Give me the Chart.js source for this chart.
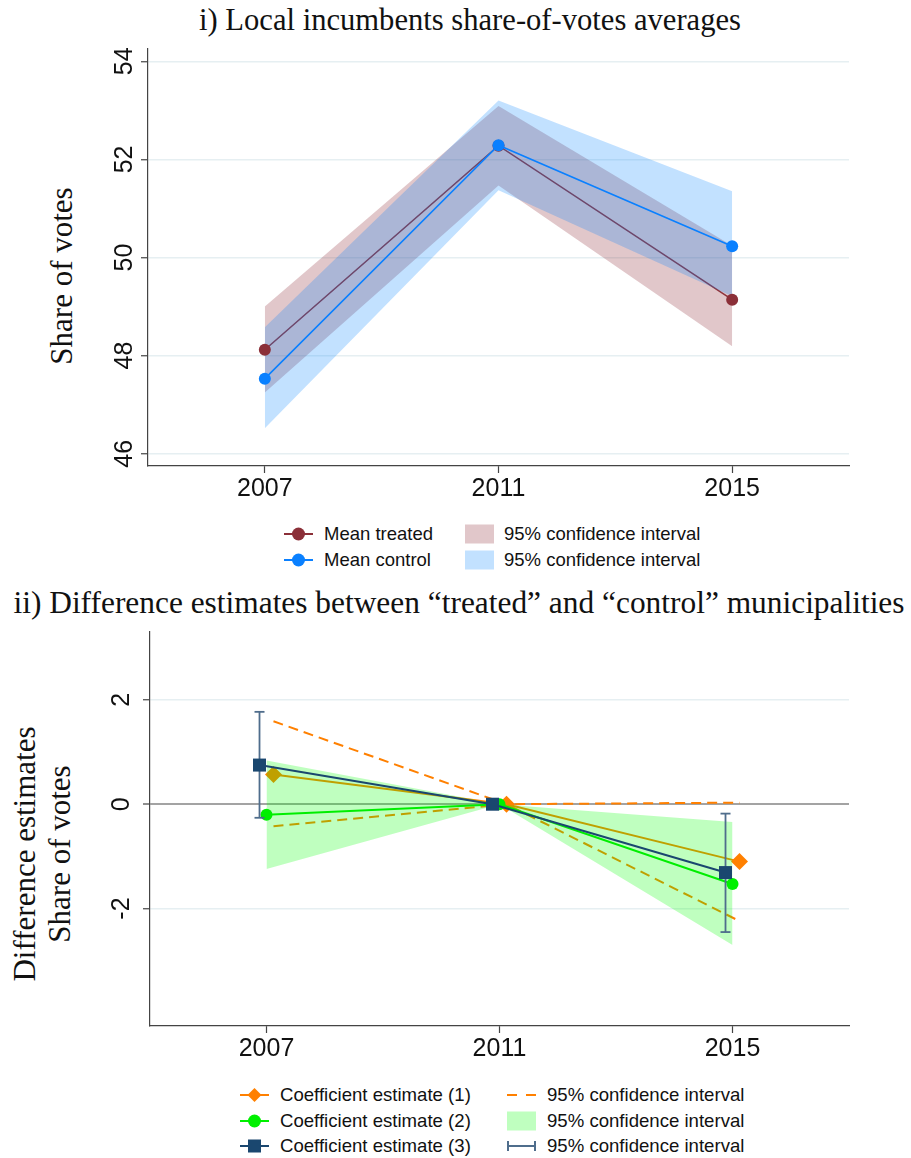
<!DOCTYPE html>
<html>
<head>
<meta charset="utf-8">
<script src="https://cdn.jsdelivr.net/npm/chart.js@4.4.1/dist/chart.umd.min.js"></script>
<style>
  html, body { margin: 0; padding: 0; background: #fff; }
  body { width: 911px; height: 1158px; position: relative; overflow: hidden; }
  canvas { position: absolute; left: 0; }
  .serif { position: absolute; font-family: "Liberation Serif", "Times New Roman", serif; color: #111; white-space: nowrap; font-size: 31px; line-height: 31px; }
  .title { transform: translateX(-50%); }
  .ytitle { transform: translate(-50%, -50%) rotate(-90deg); text-align: center; }
  .leg { position: absolute; font-family: "Liberation Sans", Arial, sans-serif; color: #111; white-space: nowrap; height: 24px; line-height: 24px; }
  .sym { position: absolute; }
</style>
</head>
<body>
<div class="serif title" style="left:470px; top:5px; font-size:30.6px;">i) Local incumbents share-of-votes averages</div>
<div class="serif ytitle" style="left:61px; top:276px;">Share of votes</div>
<canvas id="top" width="911" height="506" style="top:0px;"></canvas>
<div id="legendTop"></div>

<div class="serif title" style="left:459px; top:587px; font-size:31.4px;">ii) Difference estimates between “treated” and “control” municipalities</div>
<div class="serif ytitle" style="left:42px; top:854px; line-height:35px;">Difference estimates<br>Share of votes</div>
<canvas id="bottom" width="911" height="466" style="top:600px;"></canvas>
<div id="legendBottom"></div>

<script>
// ---- election years (x categories) ----
const years = [2007, 2011, 2015];

// ---- panel i: incumbents' share of votes, group means and 95% CIs ----
const meanTreated = [48.12, 52.28, 49.14];
const ciTreatedLo = [47.25, 51.47, 48.19];
const ciTreatedHi = [49.00, 53.09, 50.24];
const meanControl = [47.53, 52.29, 50.23];
const ciControlLo = [46.52, 51.37, 49.21];
const ciControlHi = [48.58, 53.20, 51.35];
const yTicksTop = [46, 48, 50, 52, 54];

// ---- panel ii: difference estimates (2011 = reference year) ----
const coef1 = [0.57, 0, -1.10];
const ci1Lo = [-0.42, 0, -2.24];
const ci1Hi = [1.59, 0, 0.03];
const coef2 = [-0.20, 0, -1.53];
const ci2Lo = [-1.24, 0, -2.70];
const ci2Hi = [0.84, 0, -0.34];
const coef3 = [0.75, 0, -1.31];
const ci3Lo = [-0.26, 0, -2.45];
const ci3Hi = [1.77, 0, -0.18];
const yTicksBottom = [-2, 0, 2];

// horizontal dodge of the three estimates around each year
const DODGE = { c1: 0.12, c2: 0, c3: -0.12 };

const COL = {
  cranberry: '#8b2f38', cranLine: '#90353d',
  blue: '#0a80ff',
  redFill: 'rgba(140,40,50,0.26)', blueFill: 'rgba(0,128,255,0.24)',
  orange: '#ff8000', green: '#00ee00', greenFill: 'rgba(0,255,0,0.25)',
  navy: '#1a476f', bar: '#4f6d8c', axis: '#444', grid: '#e6eff2', zero: '#a3a3a3'
};
const TICK_FONT = '"Liberation Sans", Arial, sans-serif';

function pts(vals, dx) { return years.map((yr, i) => ({ x: yr + dx, y: vals[i] })); }
function bars(lo, hi, dx) {
  const out = [];
  years.forEach((yr, i) => {
    out.push({ x: yr + dx, y: lo[i] }, { x: yr + dx, y: hi[i] }, { x: yr + dx + 0.5, y: null });
  });
  return out;
}

// y tick labels are written vertically, reading upwards
const rotatedYTicks = {
  id: 'rotatedYTicks',
  afterDraw(chart, args, opts) {
    const s = chart.scales.y, ctx = chart.ctx;
    ctx.save();
    ctx.font = opts.font;
    ctx.fillStyle = '#111';
    ctx.textAlign = 'center';
    ctx.textBaseline = 'alphabetic';
    opts.values.forEach(v => {
      ctx.save();
      ctx.translate(s.right - opts.gap, s.getPixelForValue(v));
      ctx.rotate(-Math.PI / 2);
      ctx.fillText(String(v), 0, 0);
      ctx.restore();
    });
    ctx.restore();
  }
};

function xScale() {
  return {
    type: 'linear', min: 2005, max: 2017,
    afterBuildTicks: s => { s.ticks = years.map(v => ({ value: v })); },
    afterFit: s => { s.height = 40; },
    ticks: { callback: v => String(v), color: '#111', font: { family: TICK_FONT, size: 25 }, padding: 1, maxRotation: 0, autoSkip: false },
    grid: { drawOnChartArea: false, drawTicks: true, tickLength: 7, tickColor: COL.axis, tickWidth: 1.2 },
    border: { color: COL.axis, width: 1.2 }
  };
}
function yScale(min, max, ticks, width) {
  return {
    type: 'linear', min, max,
    afterBuildTicks: s => { s.ticks = ticks.map(v => ({ value: v })); },
    afterFit: s => { s.width = width; },
    ticks: { display: false },
    grid: {
      color: c => (c.tick && c.tick.value === 0 ? COL.zero : COL.grid),
      lineWidth: c => (c.tick && c.tick.value === 0 ? 2 : 1.5),
      drawTicks: true, tickLength: 7, tickColor: COL.axis, tickWidth: 1.2
    },
    border: { color: COL.axis, width: 1.2 }
  };
}
const common = {
  responsive: false, animation: false, devicePixelRatio: 1,
  plugins: { legend: { display: false }, tooltip: { enabled: false }, title: { display: false } },
  elements: { line: { tension: 0 } }
};
const band = (data, fill, order, bg) => ({ data, fill, order, backgroundColor: bg, borderColor: 'transparent', borderWidth: 0, pointRadius: 0 });

// ---------------- panel i ----------------
new Chart(document.getElementById('top'), {
  type: 'line',
  data: {
    datasets: [
      band(pts(ciTreatedHi, 0), '+1', 6, COL.redFill),
      band(pts(ciTreatedLo, 0), false, 6, 'transparent'),
      { data: pts(meanTreated, 0), order: 5, borderColor: COL.cranLine, borderWidth: 1.6, pointRadius: 0, fill: false },
      band(pts(ciControlHi, 0), '+1', 4, COL.blueFill),
      band(pts(ciControlLo, 0), false, 4, 'transparent'),
      { data: pts(meanTreated, 0), order: 2, showLine: false, pointRadius: 6, pointBackgroundColor: COL.cranberry, pointBorderWidth: 0 },
      { data: pts(meanControl, 0), order: 1, borderColor: COL.blue, borderWidth: 1.6, pointRadius: 6, pointBackgroundColor: COL.blue, pointBorderWidth: 0, fill: false }
    ]
  },
  options: Object.assign({}, common, {
    layout: { padding: { left: 0, top: 49, right: 62, bottom: 0 }, autoPadding: false },
    scales: { x: xScale(), y: yScale(45.75, 54.25, yTicksTop, 148) },
    plugins: Object.assign({}, common.plugins, { rotatedYTicks: { values: yTicksTop, gap: 16, font: '25px ' + TICK_FONT } })
  }),
  plugins: [rotatedYTicks]
});

// ---------------- panel ii ----------------
new Chart(document.getElementById('bottom'), {
  type: 'line',
  data: {
    datasets: [
      { data: pts(ci1Hi, DODGE.c1), order: 10, borderColor: COL.orange, borderWidth: 2, borderDash: [10, 6], pointRadius: 0, fill: false },
      { data: pts(ci1Lo, DODGE.c1), order: 10, borderColor: COL.orange, borderWidth: 2, borderDash: [10, 6], pointRadius: 0, fill: false },
      { data: pts(coef1, DODGE.c1), order: 9, borderColor: COL.orange, borderWidth: 2, pointStyle: 'rectRot', pointRadius: 8.5, pointBackgroundColor: COL.orange, pointBorderWidth: 0, fill: false },
      band(pts(ci2Hi, DODGE.c2), '+1', 8, COL.greenFill),
      band(pts(ci2Lo, DODGE.c2), false, 8, 'transparent'),
      { data: pts(coef2, DODGE.c2), order: 7, borderColor: COL.green, borderWidth: 2, pointRadius: 6, pointBackgroundColor: '#00f000', pointBorderWidth: 0, fill: false },
      { data: bars(ci3Lo, ci3Hi, DODGE.c3), order: 6, borderColor: COL.bar, borderWidth: 1.8, pointStyle: 'line', pointRadius: 5, pointBorderColor: COL.bar, pointBorderWidth: 1.8, fill: false },
      { data: pts(coef3, DODGE.c3), order: 5, borderColor: COL.navy, borderWidth: 2, pointStyle: 'rect', pointRadius: 9.2, pointBackgroundColor: COL.navy, pointBorderWidth: 0, fill: false }
    ]
  },
  options: Object.assign({}, common, {
    layout: { padding: { left: 0, top: 32, right: 62, bottom: 0 }, autoPadding: false },
    scales: { x: xScale(), y: yScale(-4.25, 3.3, yTicksBottom, 150) },
    plugins: Object.assign({}, common.plugins, { rotatedYTicks: { values: yTicksBottom, gap: 21, font: '25px ' + TICK_FONT } })
  }),
  plugins: [rotatedYTicks]
});

// ---------------- legends ----------------
function svgLineMarker(w, color, marker) {
  let m = '';
  const c = w / 2;
  if (marker === 'circle') m = `<circle cx="${c}" cy="10" r="6.5" fill="${color}"/>`;
  if (marker === 'diamond') m = `<polygon points="${c},3 ${c + 7},10 ${c},17 ${c - 7},10" fill="${color}"/>`;
  if (marker === 'square') m = `<rect x="${c - 6.5}" y="3.5" width="13" height="13" fill="${color}"/>`;
  return `<svg width="${w}" height="20"><line x1="0" y1="10" x2="${w}" y2="10" stroke="${color}" stroke-width="2"/>${m}</svg>`;
}
function svgBox(w, fill) { return `<svg width="${w}" height="20"><rect x="0" y="0.5" width="${w}" height="19" fill="${fill}"/></svg>`; }
function svgDash(w, color) { return `<svg width="${w}" height="20"><line x1="0" y1="10" x2="${w}" y2="10" stroke="${color}" stroke-width="2" stroke-dasharray="10 9"/></svg>`; }
function svgBar(w, color) { return `<svg width="${w}" height="20"><line x1="1" y1="10" x2="${w - 1}" y2="10" stroke="${color}" stroke-width="2"/><line x1="1" y1="5" x2="1" y2="15" stroke="${color}" stroke-width="2"/><line x1="${w - 1}" y1="5" x2="${w - 1}" y2="15" stroke="${color}" stroke-width="2"/></svg>`; }

function addLegend(el, items, fontSize) {
  items.forEach(it => {
    const s = document.createElement('div');
    s.className = 'sym';
    s.style.left = it.sx + 'px';
    s.style.top = (it.cy - 10) + 'px';
    s.style.height = '20px';
    s.innerHTML = it.svg;
    el.appendChild(s);
    const t = document.createElement('div');
    t.className = 'leg';
    t.style.left = it.tx + 'px';
    t.style.top = (it.cy - 12) + 'px';
    t.style.fontSize = fontSize + 'px';
    t.textContent = it.text;
    el.appendChild(t);
  });
}

const CI_LABEL = '95% confidence interval';
addLegend(document.getElementById('legendTop'), [
  { sx: 284, tx: 324, cy: 534, svg: svgLineMarker(29, COL.cranberry, 'circle'), text: 'Mean treated' },
  { sx: 465, tx: 504, cy: 534, svg: svgBox(29, COL.redFill), text: CI_LABEL },
  { sx: 284, tx: 324, cy: 560, svg: svgLineMarker(29, COL.blue, 'circle'), text: 'Mean control' },
  { sx: 465, tx: 504, cy: 560, svg: svgBox(29, COL.blueFill), text: CI_LABEL }
], 18.5);

addLegend(document.getElementById('legendBottom'), [
  { sx: 240, tx: 280, cy: 1095, svg: svgLineMarker(29, COL.orange, 'diamond'), text: 'Coefficient estimate (1)' },
  { sx: 507, tx: 547, cy: 1095, svg: svgDash(29, COL.orange), text: CI_LABEL },
  { sx: 240, tx: 280, cy: 1121, svg: svgLineMarker(29, '#00f000', 'circle'), text: 'Coefficient estimate (2)' },
  { sx: 507, tx: 547, cy: 1121, svg: svgBox(29, COL.greenFill), text: CI_LABEL },
  { sx: 240, tx: 280, cy: 1146, svg: svgLineMarker(29, COL.navy, 'square'), text: 'Coefficient estimate (3)' },
  { sx: 507, tx: 547, cy: 1146, svg: svgBar(29, COL.bar), text: CI_LABEL }
], 18.6);
</script>
</body>
</html>
